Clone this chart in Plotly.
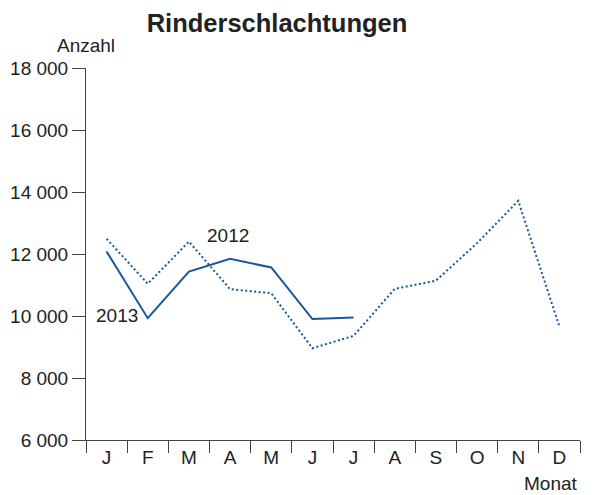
import plotly.graph_objects as go

months = ["Jan", "Feb", "Mär", "Apr", "Mai", "Jun", "Jul", "Aug", "Sep", "Okt", "Nov", "Dez"]
month_labels = ["J", "F", "M", "A", "M", "J", "J", "A", "S", "O", "N", "D"]
values_2012 = [12490, 11040, 12400, 10865, 10735, 8960, 9360, 10875, 11140, 12350, 13715, 9660]
values_2013 = [12080, 9930, 11430, 11845, 11565, 9900, 9950]
y_ticks = [6000, 8000, 10000, 12000, 14000, 16000, 18000]

blue = "#15589c"
txt = "#222222"
font = "Liberation Sans, Arial, sans-serif"
fs = 19

fig = go.Figure()
fig.add_trace(go.Scatter(x=months, y=values_2012, mode="lines",
                         line=dict(color=blue, width=2, dash="2px,2.5px"), name="2012"))
fig.add_trace(go.Scatter(x=months[:len(values_2013)], y=values_2013, mode="lines",
                         line=dict(color=blue, width=2), name="2013"))

fig.update_layout(
    width=595, height=495,
    margin=dict(l=86, r=15, t=68, b=55, autoexpand=False),
    paper_bgcolor="white", plot_bgcolor="white",
    showlegend=False,
    separators=", ",
    font=dict(family=font, size=fs, color=txt),
    title=dict(text="<b>Rinderschlachtungen</b>", x=277/595, xanchor="center",
               y=1 - 23/495, yanchor="middle", font=dict(size=25.5, color=txt)),
    xaxis=dict(type="category", categoryarray=months, range=[-0.5, 11.5],
               tickmode="array", tickvals=months, ticktext=month_labels,
               tickson="boundaries", ticks="outside", ticklen=12, tickcolor="#444",
               showline=True, linecolor="#444", linewidth=1, showgrid=False,
               automargin=False, tickfont=dict(size=fs, color=txt)),
    yaxis=dict(range=[6000, 18000], tickvals=y_ticks, tickformat=",d",
               ticks="outside", ticklen=13, tickcolor="#444",
               showline=True, linecolor="#444", linewidth=1, showgrid=False,
               zeroline=False, automargin=False, tickfont=dict(size=fs, color=txt)),
    annotations=[
        dict(text="Anzahl", xref="paper", yref="paper", x=0, y=1, xanchor="center",
             yanchor="middle", yshift=23, showarrow=False, font=dict(size=fs, color=txt)),
        dict(text="Monat", xref="paper", yref="paper", x=1, y=0, xanchor="right",
             yanchor="middle", yshift=-43, showarrow=False, font=dict(size=fs, color=txt)),
        dict(text="2012", xref="x", yref="y", x=2.95, y=12590, xanchor="center",
             yanchor="middle", showarrow=False, font=dict(size=fs, color=txt)),
        dict(text="2013", xref="x", yref="y", x=0.25, y=10030, xanchor="center",
             yanchor="middle", showarrow=False, font=dict(size=fs, color=txt)),
    ],
)

fig.write_html("out.html", config={"displayModeBar": False},
               post_script="document.body.style.margin='0';document.body.style.padding='0';")
